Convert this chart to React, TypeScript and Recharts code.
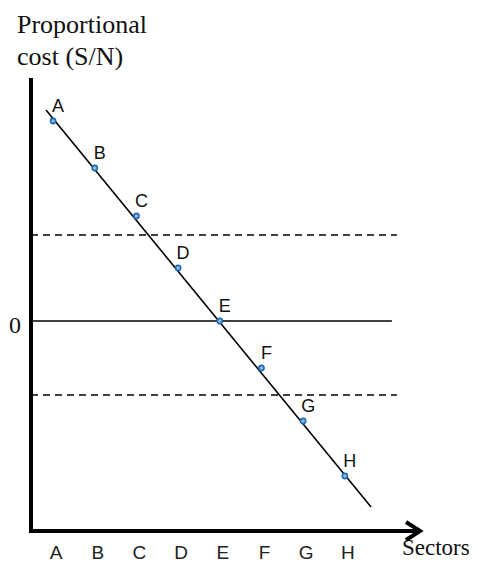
import React from 'react';
import { LineChart, Line, XAxis, YAxis, ReferenceLine, LabelList } from 'recharts';

// sectors and their proportional cost (S/N)
const sectors = ['A', 'B', 'C', 'D', 'E', 'F', 'G', 'H'];
const sectorPos = [1, 2, 3, 4, 5, 6, 7, 8];
const costValues = [4.0, 3.06, 2.1, 1.06, 0, -0.94, -2.0, -3.1];

// thresholds (dashed) and the fitted line that runs past A and H
const upperThreshold = 1.72;
const lowerThreshold = -1.48;
const trendStart = { x: 0.83, y: 4.22 };
const trendEnd = { x: 8.63, y: -3.72 };

const xDomain: [number, number] = [0.47, 9.9];
const yDomain: [number, number] = [-4.2, 4.86];
const zeroLineEnd = 9.13;
const dashedLineEnd = 9.25;

const data = sectors.map((name, i) => ({ name, pos: sectorPos[i], cost: costValues[i] }));

const PointLabel = (props: any) => {
  const { x, y, value } = props;
  return (
    <text x={x + 5} y={y - 9} textAnchor="middle" fontSize={18} fontFamily="Liberation Sans, Arial, sans-serif" fill="#111">
      {value}
    </text>
  );
};

const ArrowAxis = (props: any) => {
  const { x1, y1, x2, y2 } = props;
  const tip = x2 - 4;
  return (
    <g>
      <line x1={x1 - 2} y1={y1} x2={tip - 1} y2={y2} stroke="#000" strokeWidth={4} />
      <path d={`M ${tip - 14} ${y2 - 9} L ${tip} ${y2} L ${tip - 14} ${y2 + 9}`} fill="none" stroke="#000" strokeWidth={4} />
    </g>
  );
};

export default function App() {
  return (
    <div style={{ position: 'absolute', left: 0, top: 0, width: 478, height: 562, background: '#fff' }}>
      <div
        style={{
          position: 'absolute',
          left: 17,
          top: 9,
          fontFamily: 'Liberation Serif, Times New Roman, serif',
          fontSize: 26,
          lineHeight: '32px',
          color: '#111',
        }}
      >
        Proportional
        <br />
        cost (S/N)
      </div>
      <div
        style={{
          position: 'absolute',
          left: 402,
          top: 536,
          fontFamily: 'Liberation Serif, Times New Roman, serif',
          fontSize: 23,
          lineHeight: '23px',
          color: '#111',
        }}
      >
        Sectors
      </div>
      <LineChart width={478} height={562} data={data} margin={{ top: 78, right: 54, bottom: 1, left: 0 }}>
        <XAxis
          dataKey="pos"
          type="number"
          domain={xDomain}
          ticks={sectorPos}
          tickFormatter={(v: number) => sectors[v - 1]}
          axisLine={false}
          tickLine={false}
          tickSize={6}
          tickMargin={9}
          height={30}
          tick={{ fontSize: 19, fontFamily: 'Liberation Sans, Arial, sans-serif', fill: '#222', dx: 3 }}
          allowDataOverflow
        />
        <YAxis
          type="number"
          domain={yDomain}
          ticks={[0]}
          width={31}
          axisLine={false}
          tickLine={false}
          tickSize={6}
          tickMargin={4}
          tick={{ fontSize: 24, fontFamily: 'Liberation Serif, Times New Roman, serif', fill: '#111', dy: 3 }}
          allowDataOverflow
        />
        <ReferenceLine
          segment={[{ x: xDomain[0], y: upperThreshold }, { x: dashedLineEnd, y: upperThreshold }]}
          stroke="#000"
          strokeWidth={1.5}
          strokeDasharray="7 5"
          ifOverflow="visible"
        />
        <ReferenceLine
          segment={[{ x: xDomain[0], y: lowerThreshold }, { x: dashedLineEnd, y: lowerThreshold }]}
          stroke="#000"
          strokeWidth={1.5}
          strokeDasharray="7 5"
          ifOverflow="visible"
        />
        <ReferenceLine
          segment={[{ x: xDomain[0], y: 0 }, { x: zeroLineEnd, y: 0 }]}
          stroke="#000"
          strokeWidth={1.5}
          ifOverflow="visible"
        />
        <ReferenceLine segment={[trendStart, trendEnd]} stroke="#000" strokeWidth={1.6} ifOverflow="visible" />
        <ReferenceLine
          segment={[{ x: xDomain[0], y: yDomain[0] }, { x: xDomain[0], y: yDomain[1] }]}
          stroke="#000"
          strokeWidth={4}
          ifOverflow="visible"
        />
        <ReferenceLine
          segment={[{ x: xDomain[0], y: yDomain[0] }, { x: xDomain[1], y: yDomain[0] }]}
          shape={ArrowAxis}
          ifOverflow="visible"
        />
        <Line
          dataKey="cost"
          stroke="none"
          isAnimationActive={false}
          dot={{ r: 2.6, stroke: '#1f6bb3', strokeWidth: 1.6, fill: '#8dbbe6' }}
          activeDot={false}
        >
          <LabelList dataKey="name" content={PointLabel} />
        </Line>
      </LineChart>
    </div>
  );
}
